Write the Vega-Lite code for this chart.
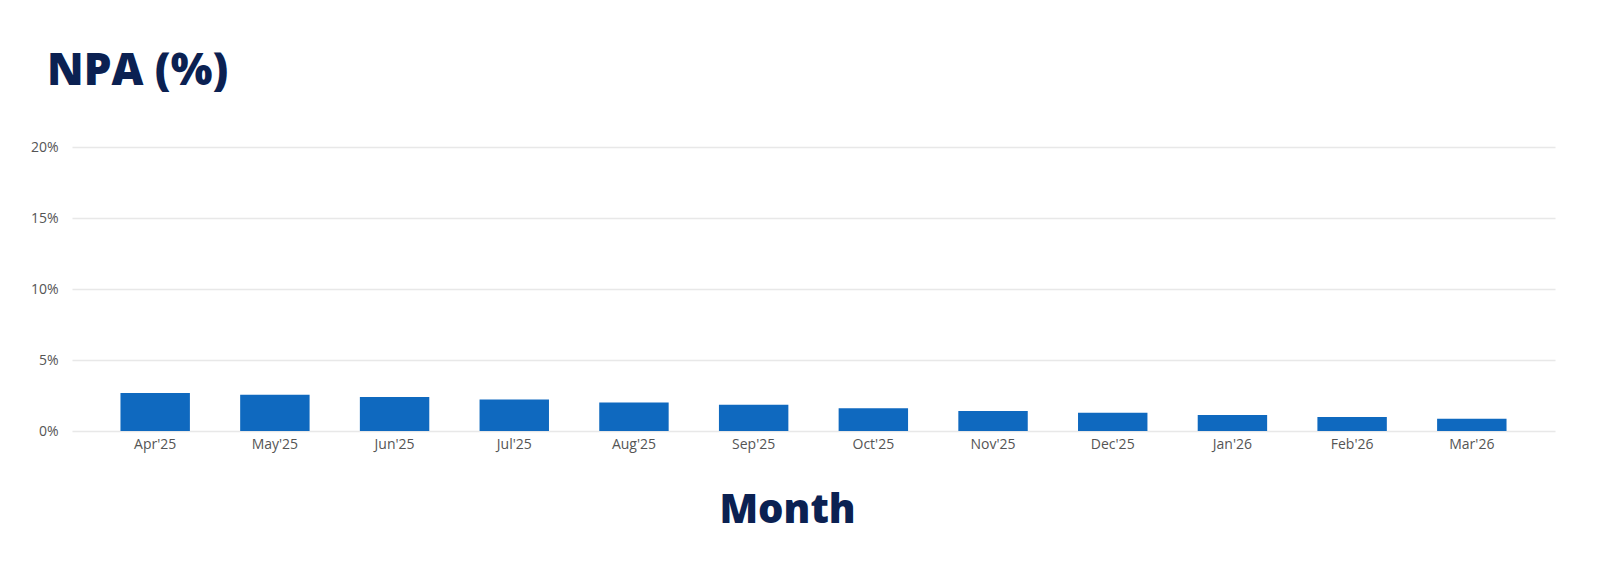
{
  "$schema": "https://vega.github.io/schema/vega-lite/v6.json",
  "width": 1483,
  "height": 284,
  "autosize": {"type": "none"},
  "padding": {"left": 72, "top": 147, "right": 48, "bottom": 138},
  "background": "white",
  "title": {
    "text": "NPA (%)",
    "anchor": "start",
    "frame": "group",
    "dx": -25,
    "offset": 46,
    "font": "Open Sans",
    "fontSize": 44,
    "fontWeight": 800,
    "color": "#0b2152"
  },
  "data": {
    "values": [
      {"month": "Apr'25", "npa": 2.67},
      {"month": "May'25", "npa": 2.56},
      {"month": "Jun'25", "npa": 2.4},
      {"month": "Jul'25", "npa": 2.21},
      {"month": "Aug'25", "npa": 2.0},
      {"month": "Sep'25", "npa": 1.84},
      {"month": "Oct'25", "npa": 1.6},
      {"month": "Nov'25", "npa": 1.4},
      {"month": "Dec'25", "npa": 1.28},
      {"month": "Jan'26", "npa": 1.12},
      {"month": "Feb'26", "npa": 0.98},
      {"month": "Mar'26", "npa": 0.86}
    ]
  },
  "mark": {"type": "bar", "color": "#0f69bf"},
  "encoding": {
    "x": {
      "field": "month",
      "type": "nominal",
      "sort": null,
      "scale": {"paddingInner": 0.42, "paddingOuter": 0.405},
      "axis": {
        "title": "Month",
        "titleFont": "Open Sans",
        "titleFontSize": 40,
        "titleFontWeight": 800,
        "titleColor": "#0b2152",
        "titleX": 715,
        "titleY": 91,
        "titleBaseline": "alphabetic",
        "labelAngle": 0,
        "labelFont": "Open Sans",
        "labelFontSize": 14,
        "labelColor": "#555555",
        "labelPadding": 6,
        "domain": false,
        "ticks": false,
        "grid": false
      }
    },
    "y": {
      "field": "npa",
      "type": "quantitative",
      "scale": {"domain": [0, 20]},
      "axis": {
        "title": null,
        "values": [0, 5, 10, 15, 20],
        "labelExpr": "datum.value + '%'",
        "labelFont": "Open Sans",
        "labelFontSize": 14,
        "labelColor": "#555555",
        "labelPadding": 14,
        "domain": false,
        "ticks": false,
        "gridColor": "#e8e8e8",
        "gridWidth": 1.5
      }
    }
  },
  "config": {"view": {"stroke": null}}
}
